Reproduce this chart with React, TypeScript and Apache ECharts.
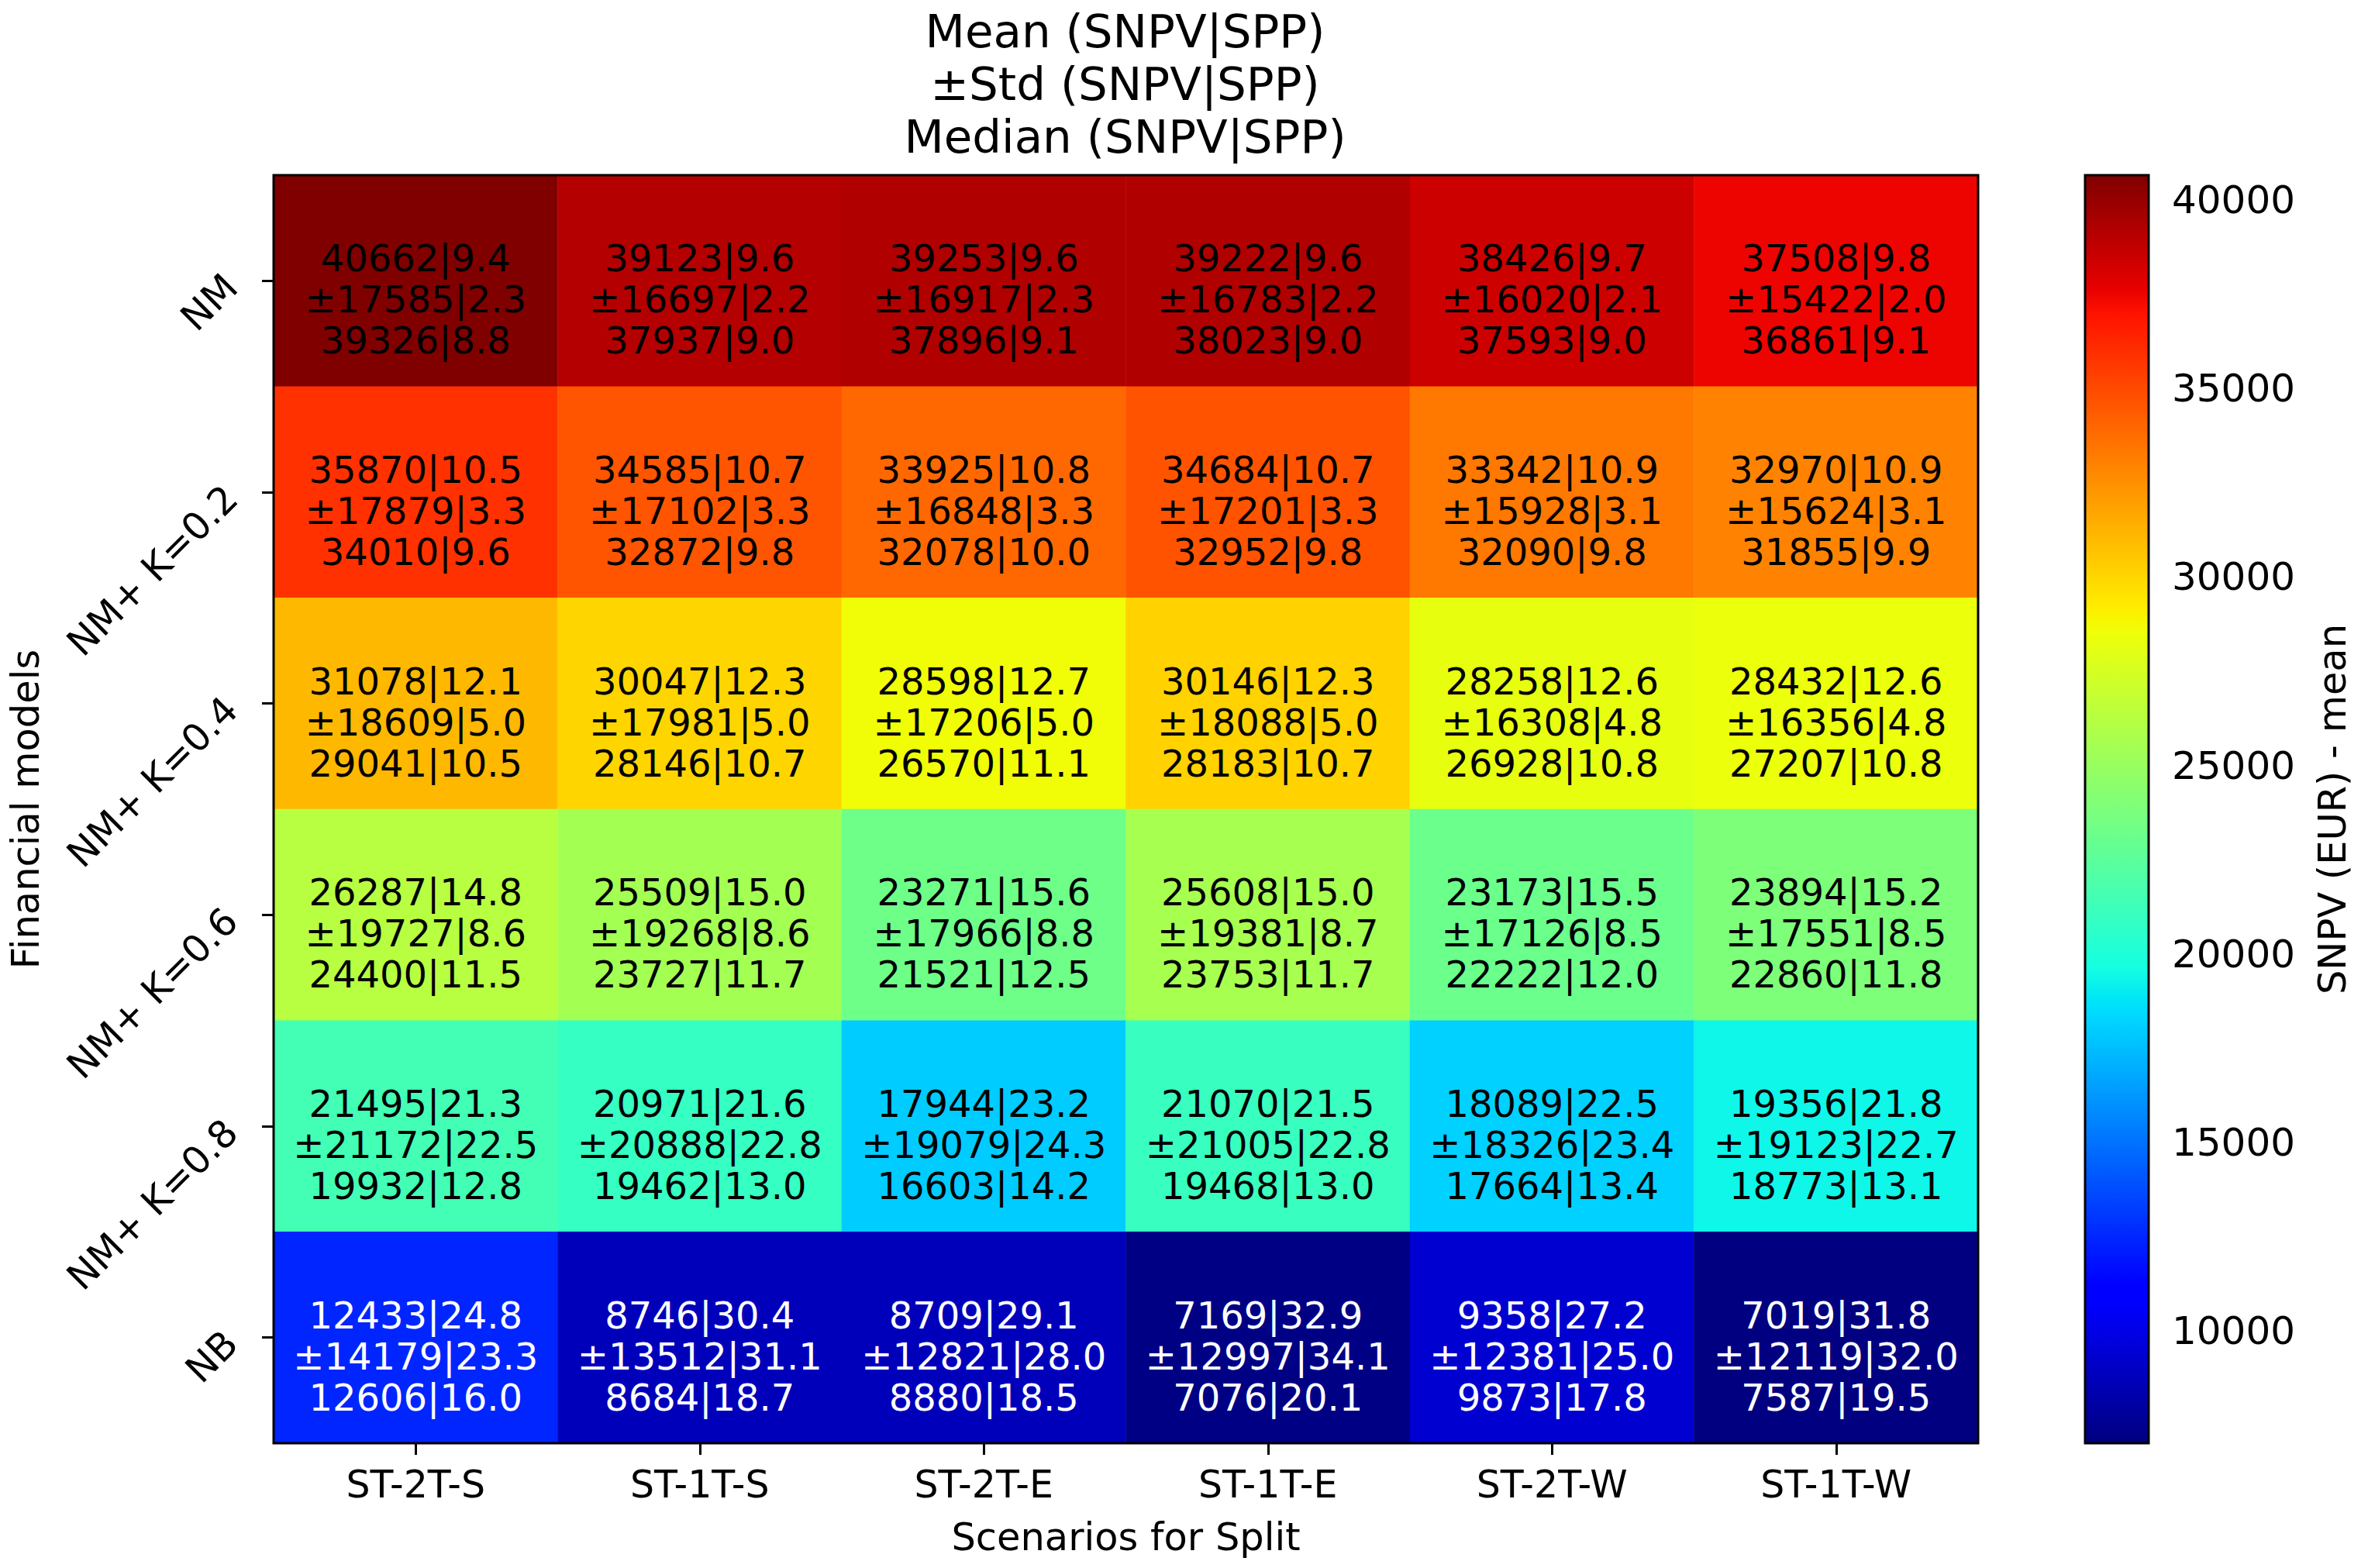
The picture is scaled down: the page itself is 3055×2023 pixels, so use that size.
import React, { useEffect, useRef } from "react";
import * as echarts from "echarts";

const scenarios = ["ST-2T-S", "ST-1T-S", "ST-2T-E", "ST-1T-E", "ST-2T-W", "ST-1T-W"];
const models = ["NM", "NM+ K=0.2", "NM+ K=0.4", "NM+ K=0.6", "NM+ K=0.8", "NB"];

const meanSNPV = [
  [40662, 39123, 39253, 39222, 38426, 37508],
  [35870, 34585, 33925, 34684, 33342, 32970],
  [31078, 30047, 28598, 30146, 28258, 28432],
  [26287, 25509, 23271, 25608, 23173, 23894],
  [21495, 20971, 17944, 21070, 18089, 19356],
  [12433, 8746, 8709, 7169, 9358, 7019],
];
const meanSPP = [
  [9.4, 9.6, 9.6, 9.6, 9.7, 9.8],
  [10.5, 10.7, 10.8, 10.7, 10.9, 10.9],
  [12.1, 12.3, 12.7, 12.3, 12.6, 12.6],
  [14.8, 15.0, 15.6, 15.0, 15.5, 15.2],
  [21.3, 21.6, 23.2, 21.5, 22.5, 21.8],
  [24.8, 30.4, 29.1, 32.9, 27.2, 31.8],
];
const stdSNPV = [
  [17585, 16697, 16917, 16783, 16020, 15422],
  [17879, 17102, 16848, 17201, 15928, 15624],
  [18609, 17981, 17206, 18088, 16308, 16356],
  [19727, 19268, 17966, 19381, 17126, 17551],
  [21172, 20888, 19079, 21005, 18326, 19123],
  [14179, 13512, 12821, 12997, 12381, 12119],
];
const stdSPP = [
  [2.3, 2.2, 2.3, 2.2, 2.1, 2.0],
  [3.3, 3.3, 3.3, 3.3, 3.1, 3.1],
  [5.0, 5.0, 5.0, 5.0, 4.8, 4.8],
  [8.6, 8.6, 8.8, 8.7, 8.5, 8.5],
  [22.5, 22.8, 24.3, 22.8, 23.4, 22.7],
  [23.3, 31.1, 28.0, 34.1, 25.0, 32.0],
];
const medianSNPV = [
  [39326, 37937, 37896, 38023, 37593, 36861],
  [34010, 32872, 32078, 32952, 32090, 31855],
  [29041, 28146, 26570, 28183, 26928, 27207],
  [24400, 23727, 21521, 23753, 22222, 22860],
  [19932, 19462, 16603, 19468, 17664, 18773],
  [12606, 8684, 8880, 7076, 9873, 7587],
];
const medianSPP = [
  [8.8, 9.0, 9.1, 9.0, 9.0, 9.1],
  [9.6, 9.8, 10.0, 9.8, 9.8, 9.9],
  [10.5, 10.7, 11.1, 10.7, 10.8, 10.8],
  [11.5, 11.7, 12.5, 11.7, 12.0, 11.8],
  [12.8, 13.0, 14.2, 13.0, 13.4, 13.1],
  [16.0, 18.7, 18.5, 20.1, 17.8, 19.5],
];
const colorbarTicks = [10000, 15000, 20000, 25000, 30000, 35000, 40000];

const FONT = "DejaVu Sans";

// matplotlib "jet" segment data
const JET_R = [[0, 0], [0.35, 0], [0.66, 1], [0.89, 1], [1, 0.5]];
const JET_G = [[0, 0], [0.125, 0], [0.375, 1], [0.64, 1], [0.91, 0], [1, 0]];
const JET_B = [[0, 0.5], [0.11, 1], [0.34, 1], [0.65, 0], [1, 0]];
function seg(s: number[][], t: number) {
  for (let i = 1; i < s.length; i++) {
    if (t <= s[i][0]) {
      const [x0, y0] = s[i - 1];
      const [x1, y1] = s[i];
      return y0 + ((t - x0) / (x1 - x0)) * (y1 - y0);
    }
  }
  return s[s.length - 1][1];
}
function jet(t: number) {
  const r = Math.round(seg(JET_R, t) * 255);
  const g = Math.round(seg(JET_G, t) * 255);
  const b = Math.round(seg(JET_B, t) * 255);
  return `rgb(${r},${g},${b})`;
}
const JET_LUT = Array.from({ length: 256 }, (_, i) => jet(i / 255));
const JET_STOPS = [0, 0.11, 0.125, 0.34, 0.35, 0.375, 0.64, 0.65, 0.66, 0.89, 0.91, 1];

export default function App() {
  const ref = useRef<HTMLDivElement>(null);
  useEffect(() => {
    document.body.style.margin = "0";
    const chart = echarts.init(ref.current!, null, { renderer: "svg" });
    const all = meanSNPV.flat();
    const vmin = Math.min(...all);
    const vmax = Math.max(...all);

    const G = { left: 353, top: 226, width: 2199, height: 1636 };
    const C = { left: 2690, top: 226, width: 82, height: 1636 };

    const data: any[] = [];
    for (let r = 0; r < models.length; r++) {
      for (let c = 0; c < scenarios.length; c++) {
        const v = meanSNPV[r][c];
        data.push({
          value: [c, r, v],
          label: { color: v < 15000 ? "#fff" : "#000" },
        });
      }
    }

    const option: any = {
      animation: false,
      backgroundColor: "#fff",
      textStyle: { fontFamily: FONT },
      title: {
        text: "Mean (SNPV|SPP)\n±Std (SNPV|SPP)\nMedian (SNPV|SPP)",
        left: G.left + G.width / 2 - 6,
        top: 1,
        textAlign: "center",
        textStyle: { fontFamily: FONT, fontSize: 59.5, fontWeight: "normal", color: "#000", lineHeight: 68 },
      },
      grid: [
        { ...G, containLabel: false },
        { ...C, containLabel: false },
      ],
      xAxis: [
        {
          type: "category",
          gridIndex: 0,
          data: scenarios,
          name: "Scenarios for Split",
          nameLocation: "middle",
          nameGap: 96,
          nameTextStyle: { fontFamily: FONT, fontSize: 49.5, color: "#000" },
          axisLine: { show: false },
          axisTick: { show: true, alignWithLabel: true, length: 15, lineStyle: { color: "#000", width: 3 } },
          axisLabel: { fontFamily: FONT, fontSize: 49, color: "#000", margin: 29 },
          splitLine: { show: false },
        },
        { type: "value", gridIndex: 1, min: 0, max: 1, show: false },
      ],
      yAxis: [
        {
          type: "category",
          gridIndex: 0,
          data: models,
          inverse: true,
          name: "Financial models",
          nameLocation: "middle",
          nameGap: 295,
          nameRotate: 90,
          nameTextStyle: { fontFamily: FONT, fontSize: 49.5, color: "#000" },
          axisLine: { show: false },
          axisTick: { show: true, alignWithLabel: true, length: 15, lineStyle: { color: "#000", width: 3 } },
          axisLabel: { fontFamily: FONT, fontSize: 49, color: "#000", margin: 55, rotate: 45 },
          splitLine: { show: false },
        },
        {
          type: "value",
          gridIndex: 1,
          min: vmin,
          max: vmax,
          position: "right",
          name: "SNPV (EUR) - mean",
          nameLocation: "middle",
          nameGap: 212,
          nameRotate: 90,
          nameTextStyle: { fontFamily: FONT, fontSize: 49.5, color: "#000" },
          axisLine: { show: false },
          axisTick: { show: true, length: 15, customValues: colorbarTicks, lineStyle: { color: "#000", width: 3 } },
          axisLabel: {
            fontFamily: FONT,
            fontSize: 50,
            color: "#000",
            margin: 30,
            customValues: colorbarTicks,
            formatter: (v: number) => String(v),
          },
          splitLine: { show: false },
        },
      ],
      visualMap: {
        show: false,
        type: "continuous",
        seriesIndex: 0,
        dimension: 2,
        min: vmin,
        max: vmax,
        inRange: { color: JET_LUT },
      },
      graphic: [
        {
          type: "rect",
          z: 100,
          shape: { x: G.left, y: G.top, width: G.width, height: G.height },
          style: { fill: "none", stroke: "#000", lineWidth: 3 },
          silent: true,
        },
        {
          type: "rect",
          z: 100,
          shape: { x: C.left, y: C.top, width: C.width, height: C.height },
          style: { fill: "none", stroke: "#000", lineWidth: 3 },
          silent: true,
        },
      ],
      series: [
        {
          type: "heatmap",
          xAxisIndex: 0,
          yAxisIndex: 0,
          data,
          emphasis: { disabled: true },
          label: {
            show: true,
            fontFamily: FONT,
            fontSize: 48,
            lineHeight: 53,
            align: "center",
            verticalAlign: "middle",
            offset: [0, 24],
            formatter: (p: any) => {
              const [c, r] = p.value;
              return (
                `${meanSNPV[r][c]}|${meanSPP[r][c].toFixed(1)}\n` +
                `±${stdSNPV[r][c]}|${stdSPP[r][c].toFixed(1)}\n` +
                `${medianSNPV[r][c]}|${medianSPP[r][c].toFixed(1)}`
              );
            },
          },
        },
        {
          type: "custom",
          xAxisIndex: 1,
          yAxisIndex: 1,
          data: [[0, vmin]],
          silent: true,
          renderItem: (_params: any, api: any) => {
            const p0 = api.coord([0, vmin]);
            const p1 = api.coord([1, vmax]);
            return {
              type: "rect",
              shape: { x: p0[0], y: p1[1], width: p1[0] - p0[0], height: p0[1] - p1[1] },
              style: {
                fill: new echarts.graphic.LinearGradient(
                  0, 1, 0, 0,
                  JET_STOPS.map((o) => ({ offset: o, color: jet(o) }))
                ),
              },
            };
          },
        },
      ],
    };
    chart.setOption(option);
    return () => chart.dispose();
  }, []);
  return <div ref={ref} style={{ width: 3055, height: 2023 }} />;
}
